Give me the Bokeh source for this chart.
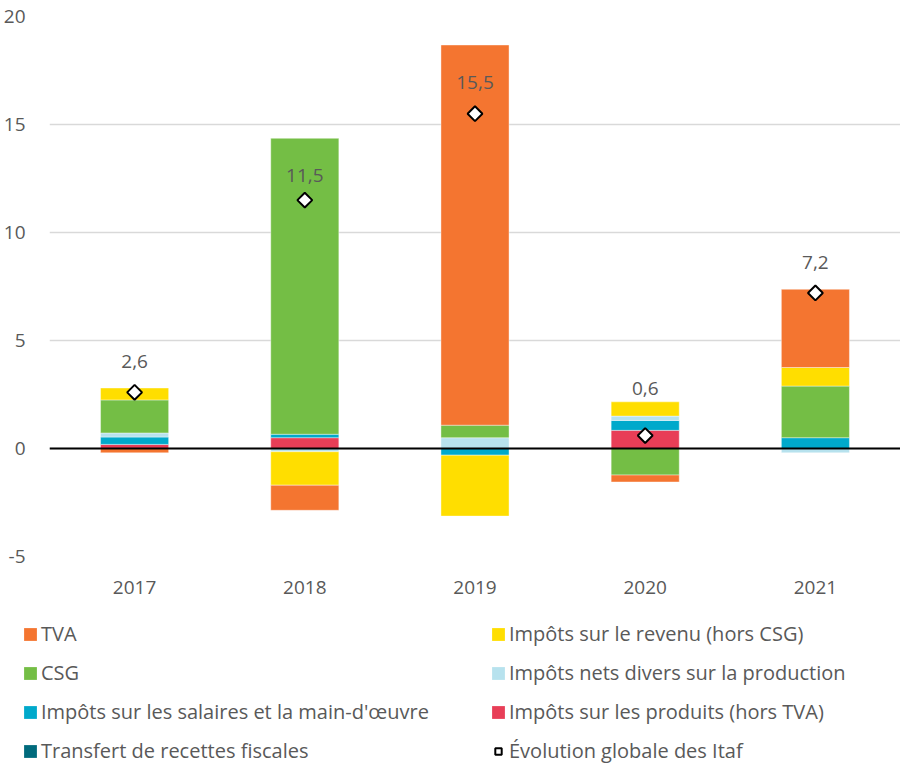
from bokeh.plotting import figure
from bokeh.layouts import column
from bokeh.models import ColumnDataSource, Span, Legend, LegendItem, FixedTicker, Range1d
from bokeh.core.properties import value
from bokeh.embed import file_html
from bokeh.resources import INLINE
import numpy as np

years = ["2017", "2018", "2019", "2020", "2021"]

# series values (points of %), in stacking order from zero outwards
transfert = [0.0, 0.0, 0.0, 0.0, 0.0]
produits = [0.19, 0.50, 0.0, 0.84, 0.0]
salaires = [0.34, 0.16, -0.31, 0.46, 0.50]
nets_divers = [0.19, -0.15, 0.50, 0.20, -0.20]
csg = [1.53, 13.70, 0.58, -1.23, 2.39]
revenu = [0.55, -1.55, -2.82, 0.66, 0.86]
tva = [-0.20, -1.16, 17.60, -0.32, 3.62]
evolution = [2.6, 11.5, 15.5, 0.6, 7.2]

y_ticks = [-5, 0, 5, 10, 15, 20]

FONT = "Open Sans"
TXT = "#595959"

series = [
    ("Transfert de recettes fiscales", transfert, "#006A7C"),
    ("Impôts sur les produits (hors TVA)", produits, "#E83E57"),
    ("Impôts sur les salaires et la main-d'œuvre", salaires, "#00A9CB"),
    ("Impôts nets divers sur la production", nets_divers, "#B7E2EE"),
    ("CSG", csg, "#74BE45"),
    ("Impôts sur le revenu (hors CSG)", revenu, "#FFDE00"),
    ("TVA", tva, "#F47530"),
]

p = figure(x_range=years, y_range=(-5, 20), width=900, height=600,
           output_backend="svg", toolbar_location=None,
           min_border_left=43, min_border_right=0, min_border_top=16,
           min_border_bottom=44)
p.outline_line_color = None
p.background_fill_color = "white"
p.frame_align = False

pos = np.zeros(len(years))
neg = np.zeros(len(years))
for name, vals, color in series:
    v = np.array(vals, dtype=float)
    bottom = np.where(v >= 0, pos, neg)
    top = bottom + v
    pos = np.where(v >= 0, pos + v, pos)
    neg = np.where(v < 0, neg + v, neg)
    src = ColumnDataSource(dict(x=years, bottom=bottom, top=top))
    p.vbar(x="x", bottom="bottom", top="top", width=0.4, source=src,
           fill_color=color, line_color="white", line_alpha=0.5, line_width=0.8)

zero = Span(location=0, dimension="width", line_color="black", line_width=2)
p.add_layout(zero)

esrc = ColumnDataSource(dict(x=years, y=evolution,
                             lab=[f"{v:.1f}".replace(".", ",") for v in evolution],
                             off=[-31, -25, -31, -47, -30]))
p.scatter(x="x", y="y", source=esrc, marker="square", angle=np.pi / 4, size=10.5,
          fill_color="white", line_color="black", line_width=2)
p.text(x="x", y="y", text="lab", source=esrc, y_offset="off",
       text_align="center", text_baseline="middle", text_color=TXT,
       text_font=value(FONT), text_font_size="19px")

# axes
p.yaxis.ticker = FixedTicker(ticks=y_ticks)
p.yaxis.major_label_overrides = {t: str(t) for t in y_ticks}
p.yaxis.axis_line_color = None
p.yaxis.major_tick_line_color = None
p.yaxis.minor_tick_line_color = None
p.yaxis.major_label_standoff = 18
p.yaxis.major_label_text_font = FONT
p.yaxis.major_label_text_font_size = "19px"
p.yaxis.major_label_text_color = TXT

p.xaxis.axis_line_color = None
p.xaxis.major_tick_line_color = None
p.xaxis.major_label_standoff = 18
p.xaxis.major_label_text_font = FONT
p.xaxis.major_label_text_font_size = "19px"
p.xaxis.major_label_text_color = TXT

p.xgrid.grid_line_color = None
p.ygrid.grid_line_color = "#D9D9D9"
p.ygrid.grid_line_width = 1.5

# ---- legend panel (separate figure, same styles) ----
lf = figure(width=900, height=165, output_backend="svg", toolbar_location=None,
            x_range=Range1d(0, 1), y_range=Range1d(0, 1),
            x_axis_location=None, y_axis_location=None,
            min_border=0, min_border_left=0, min_border_right=0,
            min_border_top=0, min_border_bottom=0)
lf.grid.grid_line_color = None
lf.outline_line_color = None
lf.frame_align = False

lrend = {}
for name, _, color in series:
    lrend[name] = lf.vbar(x=[-10], bottom=[0], top=[0], width=0.4, fill_color=color,
                          line_color=None)
lrend["Évolution globale des Itaf"] = lf.scatter(x=[-10], y=[-10], marker="square",
                                                 angle=np.pi / 4, size=10, fill_color="white",
                                                 line_color="black", line_width=2)


def make_legend(names, loc):
    items = [LegendItem(label=n, renderers=[lrend[n]]) for n in names]
    lg = Legend(items=items, location=loc, orientation="vertical")
    lg.glyph_width = 16
    lg.glyph_height = 16
    lg.label_standoff = 3
    lg.label_height = 20
    lg.spacing = 12
    lg.padding = 0
    lg.margin = 0
    lg.border_line_color = None
    lg.background_fill_alpha = 0
    lg.label_text_font = FONT
    lg.label_text_font_size = "20px"
    lg.label_text_color = TXT
    return lg


leg1 = make_legend(["TVA", "CSG", "Impôts sur les salaires et la main-d'œuvre",
                    "Transfert de recettes fiscales"], (22, 1))
leg2 = make_legend(["Impôts sur le revenu (hors CSG)", "Impôts nets divers sur la production",
                    "Impôts sur les produits (hors TVA)", "Évolution globale des Itaf"], (490, 1))
lf.add_layout(leg1, "center")
lf.add_layout(leg2, "center")

layout = column(p, lf, spacing=0)
open("out.html", "w").write(file_html(layout, INLINE))
